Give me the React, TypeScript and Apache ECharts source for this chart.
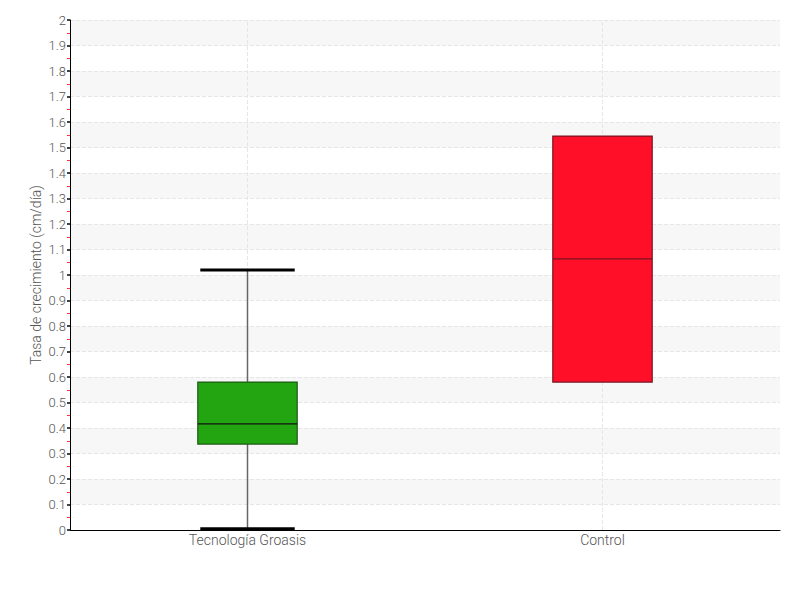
import React, { useEffect, useRef } from "react";
import * as echarts from "echarts";

const categories = ["Tecnología Groasis", "Control"];
// [min, Q1, median, Q3, max]
const boxStats = [
  [0.005, 0.337, 0.416, 0.58, 1.02],
  [0.58, 0.58, 1.063, 1.545, 1.545],
];
const boxFill = ["#22a511", "#ff0f28"];
const boxStroke = ["#1d5a14", "#7a1520"];
const yTicks = { min: 0, max: 2, interval: 0.1 };
const yName = "Tasa de crecimiento (cm/día)";

const FONT = "Roboto, 'Noto Sans', sans-serif";

export default function App() {
  const ref = useRef<HTMLDivElement>(null);
  useEffect(() => {
    if (!ref.current) return;
    const chart = echarts.init(ref.current, null, { renderer: "svg" });
    const data = boxStats.map((s, i) => [i, ...s]);
    chart.setOption({
      animation: false,
      backgroundColor: "#ffffff",
      grid: { left: 62, right: 12, top: 12, bottom: 62 },
      xAxis: {
        type: "category",
        data: categories,
        axisLine: { show: true, lineStyle: { color: "#000", width: 1 } },
        axisTick: { show: false },
        axisLabel: { color: "#555", fontSize: 14, fontWeight: 300, fontFamily: FONT, margin: 3 },
        splitLine: { show: false },
      },
      yAxis: {
        type: "value",
        min: yTicks.min,
        max: yTicks.max,
        interval: yTicks.interval,
        name: yName,
        nameLocation: "middle",
        nameGap: 27,
        nameMoveOverlap: false,
        nameTextStyle: { color: "#555", fontSize: 14, fontWeight: 300, fontFamily: FONT },
        axisLine: { show: true, lineStyle: { color: "#000", width: 1 } },
        axisTick: { show: true, length: 3, lineStyle: { color: "#444", width: 2 } },
        minorTick: { show: true, splitNumber: 2, length: 3, lineStyle: { color: "#ff3030", width: 1 } },
        axisLabel: {
          color: "#555",
          fontSize: 13,
          fontWeight: 300,
          fontFamily: FONT,
          margin: 4,
          formatter: (v: number) => String(Math.round(v * 10) / 10),
        },
        splitLine: { show: true, lineStyle: { color: "#e6e6e6", type: "dashed", width: 1 } },
        splitArea: { show: true, areaStyle: { color: ["rgba(255,255,255,0)", "#f7f7f7"] } },
      },
      series: [
        {
          type: "line",
          data: [],
          silent: true,
          z: 1,
          markLine: {
            silent: true,
            z: 1,
            symbol: "none",
            label: { show: false },
            lineStyle: { color: "#e6e6e6", type: "dashed", width: 1 },
            data: categories.map((c) => ({ xAxis: c })),
          },
        },
        {
          type: "custom",
          z: 3,
          data,
          encode: { x: 0, y: [1, 2, 3, 4, 5] },
          renderItem: (params: any, api: any) => {
            const idx = api.value(0);
            const [mn, q1, md, q3, mx] = [1, 2, 3, 4, 5].map((k) => api.value(k));
            const half = api.size([1, 0])[0] * 0.14;
            const pMin = api.coord([idx, mn]);
            const pQ1 = api.coord([idx, q1]);
            const pMd = api.coord([idx, md]);
            const pQ3 = api.coord([idx, q3]);
            const pMax = api.coord([idx, mx]);
            const cx = pMd[0];
            const capHalf = half * 0.95;
            const children: any[] = [];
            if (pMax[1] < pQ3[1]) {
              children.push({
                type: "line",
                shape: { x1: cx, y1: pMax[1], x2: cx, y2: pQ3[1] },
                style: { stroke: "#666", lineWidth: 1.5 },
              });
              children.push({
                type: "line",
                shape: { x1: cx - capHalf, y1: pMax[1], x2: cx + capHalf, y2: pMax[1] },
                style: { stroke: "#000", lineWidth: 3 },
              });
            }
            if (pMin[1] > pQ1[1]) {
              children.push({
                type: "line",
                shape: { x1: cx, y1: pQ1[1], x2: cx, y2: pMin[1] },
                style: { stroke: "#666", lineWidth: 1.5 },
              });
              children.push({
                type: "line",
                shape: { x1: cx - capHalf, y1: pMin[1], x2: cx + capHalf, y2: pMin[1] },
                style: { stroke: "#000", lineWidth: 3 },
              });
            }
            children.push({
              type: "rect",
              shape: { x: cx - half, y: pQ3[1], width: half * 2, height: pQ1[1] - pQ3[1] },
              style: { fill: boxFill[idx], stroke: boxStroke[idx], lineWidth: 1.2 },
            });
            children.push({
              type: "line",
              shape: { x1: cx - half, y1: pMd[1], x2: cx + half, y2: pMd[1] },
              style: { stroke: idx === 0 ? "#111" : "#7a1520", lineWidth: 1.2 },
            });
            return { type: "group", children };
          },
        },
      ],
    });
    return () => chart.dispose();
  }, []);
  return <div ref={ref} style={{ width: 784, height: 584 }} />;
}
